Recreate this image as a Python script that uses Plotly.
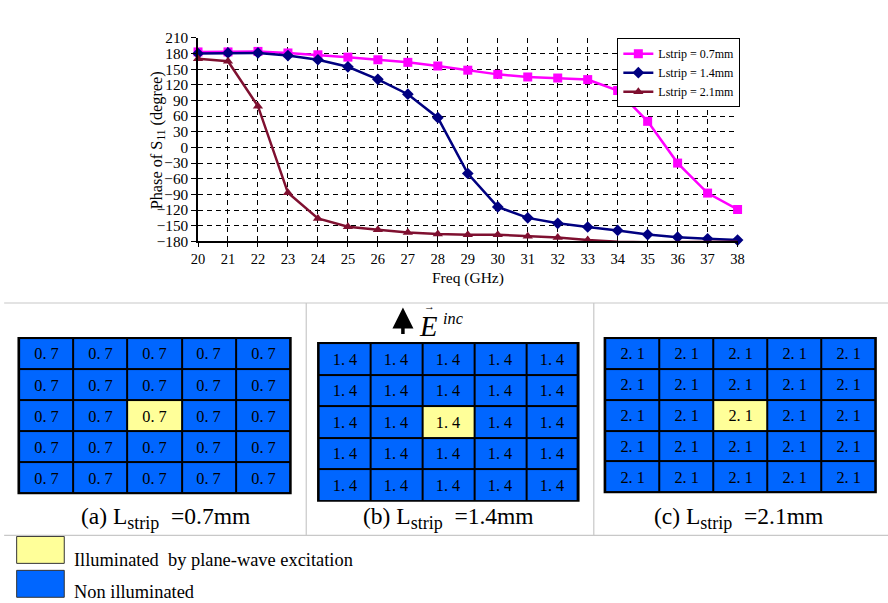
import plotly.graph_objects as go

# ---------------- data ----------------
freq = list(range(20, 39))
phase_07 = [183, 183, 184, 181, 177.5, 173, 168, 163, 156, 148, 140, 135, 133, 130, 109, 50, -30, -87.5, -119]
phase_14 = [180, 181, 181, 176, 168, 154.5, 130.5, 102, 57, -50, -114, -135, -145.5, -152.5, -159, -167, -172, -175, -177.5]
phase_21 = [170, 165, 79, -87, -136, -152, -158, -163, -166, -167.5, -167.5, -170, -172.5, -177.5, -181, -181.5, -181.5, -181.5, -181]
series_names = ["Lstrip = 0.7mm", "Lstrip = 1.4mm", "Lstrip = 2.1mm"]
y_ticks = list(range(-180, 211, 30))

cell_labels = ["0. 7", "1. 4", "2. 1"]
panel_letters = ["(a)", "(b)", "(c)"]
panel_values = ["0.7mm", "1.4mm", "2.1mm"]
illuminated = [
    [0, 0, 0, 0, 0],
    [0, 0, 0, 0, 0],
    [0, 0, 1, 0, 0],
    [0, 0, 0, 0, 0],
    [0, 0, 0, 0, 0],
]
legend_texts = ["Illuminated  by plane-wave excitation", "Non illuminated"]

# ---------------- helpers ----------------
W, H = 888, 603
SX, SY = 904 / 888, 619 / 603      # page (with 8px body margin) -> window scale
def px(x):
    return (x * SX - 8) / W
def py(y):
    return 1 - (y * SY - 8) / H
def fs(v):
    return round(v * 1.02, 1)

SERIF = "Liberation Serif"
MAG = "#FF00FF"
NAVY = "#000080"
MAROON = "#7F1030"
BLUE = "#0066FF"
YELLOW = "#FFFF99"
GRAY = "#C8C8C8"

fig = go.Figure()

# main chart
styles = [
    (phase_07, MAG, "square", 9),
    (phase_14, NAVY, "diamond", 9),
    (phase_21, MAROON, "triangle-up", 9),
]
for (vals, col, sym, sz), name in zip(styles, series_names):
    fig.add_trace(go.Scatter(
        x=freq, y=vals, name=name, mode="lines+markers",
        line=dict(color=col, width=2.5),
        marker=dict(symbol=sym, size=sz, color=col),
        cliponaxis=False, xaxis="x", yaxis="y",
    ))

# grids of cells (three panels)
domains = [
    ([px(18.3), px(292)], [py(494.3), py(336.7)]),
    ([px(317.3), px(579.3)], [py(501.7), py(341.7)]),
    ([px(603.3), px(876)], [py(493.3), py(336.7)]),
]
shapes = []
annotations = []
for i, (lab, (dx, dy)) in enumerate(zip(cell_labels, domains)):
    k = i + 2
    txt = [[lab] * 5 for _ in range(5)]
    fig.add_trace(go.Heatmap(
        z=illuminated, text=txt, texttemplate="%{text}",
        textfont=dict(family=SERIF, size=fs(16), color="black"),
        colorscale=[[0, BLUE], [1, YELLOW]], zmin=0, zmax=1,
        xgap=2, ygap=2, showscale=False, hoverinfo="skip", showlegend=False,
        xaxis=f"x{k}", yaxis=f"y{k}",
    ))
    fig.update_layout(**{
        f"xaxis{k}": dict(domain=dx, range=[-0.53, 4.53], visible=False, anchor=f"y{k}"),
        f"yaxis{k}": dict(domain=dy, range=[4.53, -0.53], visible=False, anchor=f"x{k}"),
    })
    shapes.append(dict(type="rect", xref=f"x{k} domain", yref=f"y{k} domain",
                       x0=0, x1=1, y0=0, y1=1, fillcolor="black",
                       line=dict(width=0), layer="below"))

# captions
cap_x = [166, 448, 738]
for lt, val, cx in zip(panel_letters, panel_values, cap_x):
    annotations.append(dict(
        x=px(cx), y=py(518), xref="paper", yref="paper", showarrow=False,
        text=f"{lt} L<sub><span style='font-size:18px'>strip</span></sub>  ={val}",
        font=dict(family=SERIF, size=fs(23), color="black"),
        xanchor="center", yanchor="middle"))

# axis titles
annotations.append(dict(x=px(468), y=py(277), xref="paper", yref="paper", showarrow=False,
                        text="Freq (GHz)", font=dict(family=SERIF, size=15.5, color="black"),
                        xanchor="center", yanchor="middle"))
annotations.append(dict(x=px(157), y=py(139), xref="paper", yref="paper", showarrow=False,
                        text="Phase of S<sub>11</sub> (degree)", textangle=-90,
                        font=dict(family=SERIF, size=fs(16), color="black"),
                        xanchor="center", yanchor="middle"))

# E inc arrow
annotations.append(dict(x=px(403), y=py(307), ax=0, ay=28, xref="paper", yref="paper",
                        axref="pixel", ayref="pixel", text="", showarrow=True,
                        arrowhead=2, arrowsize=1.2, arrowwidth=3.5, arrowcolor="black"))
annotations.append(dict(x=px(428), y=py(326), xref="paper", yref="paper", showarrow=False,
                        text="<i>E</i>", font=dict(family=SERIF, size=fs(28), color="black"),
                        xanchor="center", yanchor="middle"))
annotations.append(dict(x=px(430), y=py(306), xref="paper", yref="paper", showarrow=False,
                        text="→", font=dict(family=SERIF, size=11, color="black"),
                        xanchor="center", yanchor="middle"))
annotations.append(dict(x=px(453), y=py(318), xref="paper", yref="paper", showarrow=False,
                        text="<i>inc</i>", font=dict(family=SERIF, size=fs(16), color="black"),
                        xanchor="center", yanchor="middle"))

# bottom legend
for (y0, y1, col), t, ty in zip([(536.5, 563.5, YELLOW), (570.5, 597.5, BLUE)], legend_texts, [560, 592]):
    shapes.append(dict(type="rect", xref="paper", yref="paper",
                       x0=px(17.5), x1=px(65), y0=py(y1), y1=py(y0),
                       fillcolor=col, line=dict(color="#333333", width=1)))
    annotations.append(dict(x=px(73), y=py(ty), xref="paper", yref="paper", showarrow=False,
                            text=t, font=dict(family=SERIF, size=fs(18), color="black"),
                            xanchor="left", yanchor="middle"))

# table frame lines (gray)
def hline(y, x0=5, x1=888):
    return dict(type="line", xref="paper", yref="paper", x0=px(x0), x1=px(x1),
                y0=py(y), y1=py(y), line=dict(color=GRAY, width=1.2))
def vline(x, y0, y1):
    return dict(type="line", xref="paper", yref="paper", x0=px(x), x1=px(x),
                y0=py(y0), y1=py(y1), line=dict(color=GRAY, width=1.2))
shapes += [hline(302.5), hline(535.5),
           vline(306.5, 302.5, 535.5), vline(593.5, 302.5, 535.5)]

grid_dash = "5px,4px"
fig.update_layout(
    width=W, height=H, margin=dict(l=0, r=0, t=0, b=0),
    paper_bgcolor="white", plot_bgcolor="rgba(0,0,0,0)",
    font=dict(family=SERIF, color="black"),
    xaxis=dict(domain=[px(198.5), px(737)], range=[20, 38], tickmode="array",
               tickvals=freq, showgrid=True, gridcolor="black", gridwidth=1,
               griddash=grid_dash, showline=True, linecolor="black", linewidth=1.5,
               ticks="outside", ticklen=4, tickcolor="black",
               tickfont=dict(family=SERIF, size=14.5), zeroline=False,
               anchor="y"),
    yaxis=dict(domain=[py(240.7), py(36.7)], range=[-180, 210], tickmode="array",
               tickvals=y_ticks, showgrid=True, gridcolor="black", gridwidth=1,
               griddash=grid_dash, showline=True, linecolor="black", linewidth=1.5,
               ticks="outside", ticklen=5, tickcolor="black",
               tickfont=dict(family=SERIF, size=fs(15)), zeroline=False,
               anchor="x"),
    legend=dict(x=px(617), y=py(37), xanchor="left", yanchor="top",
                bgcolor="white", bordercolor="black", borderwidth=1,
                font=dict(family=SERIF, size=12), tracegroupgap=0, itemwidth=30),
    shapes=shapes, annotations=annotations, showlegend=True,
)

fig.write_html("out.html")
